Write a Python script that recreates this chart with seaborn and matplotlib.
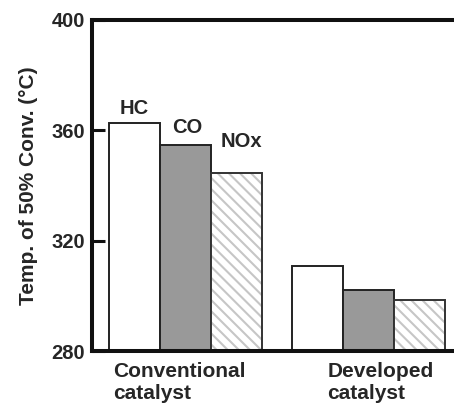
import matplotlib
matplotlib.use("Agg")
import matplotlib.pyplot as plt
import matplotlib.transforms as mtransforms
from matplotlib.patches import Rectangle
import seaborn as sns
import pandas as pd

# Data
catalysts = ["Conventional\ncatalyst", "Developed\ncatalyst"]
gases = ["HC", "CO", "NOx"]
hc_vals = [362.5, 310.7]
co_vals = [354.5, 302.0]
nox_vals = [344.3, 298.6]
y_ticks = [280, 320, 360, 400]

df = pd.DataFrame({
    "catalyst": catalysts * 3,
    "gas": ["HC"] * 2 + ["CO"] * 2 + ["NOx"] * 2,
    "temp": hc_vals + co_vals + nox_vals,
})

sns.set_style("ticks")
plt.rcParams["font.family"] = ["Liberation Sans", "DejaVu Sans"]
plt.rcParams["font.weight"] = "bold"
plt.rcParams["hatch.color"] = "#c6c6c6"
plt.rcParams["hatch.linewidth"] = 1.5

fig = plt.figure(figsize=(4.54, 4.05), dpi=100)
ax = fig.add_axes([92 / 454, (405 - 351) / 405, 1 - 92 / 454, (351 - 19.7) / 405])

palette = {"HC": "white", "CO": "#999999", "NOx": "white"}
sns.barplot(data=df, x="catalyst", y="temp", hue="gas", hue_order=gases,
            order=catalysts, palette=palette, width=0.834, gap=0,
            edgecolor="#222222", linewidth=1.4, saturation=1,
            legend=False, ax=ax, zorder=2)

hatch_gray = "#c6c6c6"
for patch in ax.containers[2]:
    patch.set_edgecolor(hatch_gray)
    patch.set_linewidth(0)
    patch.set_hatch("\\\\\\")
    outline = Rectangle(patch.get_xy(), patch.get_width(), patch.get_height(),
                        facecolor="none", edgecolor="#333333", linewidth=1.4, zorder=3)
    ax.add_patch(outline)

ax.set_ylim(280, 400)
ax.set_xlim(-0.507, 1.466)
ax.set_yticks(y_ticks)
ax.set_yticklabels([str(v) for v in y_ticks], fontsize=14.5, fontweight="bold")
ax.tick_params(axis="y", direction="in", length=9.5, width=2.2, pad=5, color="#111111")
ax.tick_params(axis="x", length=0, pad=8)
ax.set_xlabel("")
ax.set_ylabel("Temp. of 50% Conv. (°C)", fontsize=15, fontweight="bold", labelpad=10)

for lab, dx in zip(ax.get_xticklabels(), [-6, 12]):
    lab.set_fontsize(15)
    lab.set_fontweight("bold")
    lab.set_multialignment("left")
    lab.set_transform(lab.get_transform() + mtransforms.ScaledTranslation(dx / 100, 0, fig.dpi_scale_trans))

for side in ["left", "top", "bottom"]:
    ax.spines[side].set_linewidth(2.9)
    ax.spines[side].set_color("#111111")
    ax.spines[side].set_zorder(5)
ax.spines["right"].set_visible(False)

# Series labels above the first group's bars
offsets = [(0, 4), (2.5, 6), (5, 16)]
for cont, name, (dx, dy) in zip(ax.containers, gases, offsets):
    p = cont.patches[0]
    ax.annotate(name, (p.get_x() + p.get_width() / 2, p.get_height()),
                xytext=(dx * 0.72, dy), textcoords="offset points",
                ha="center", va="bottom", fontsize=14.5, fontweight="bold")

fig.savefig("out.png", dpi=100)
